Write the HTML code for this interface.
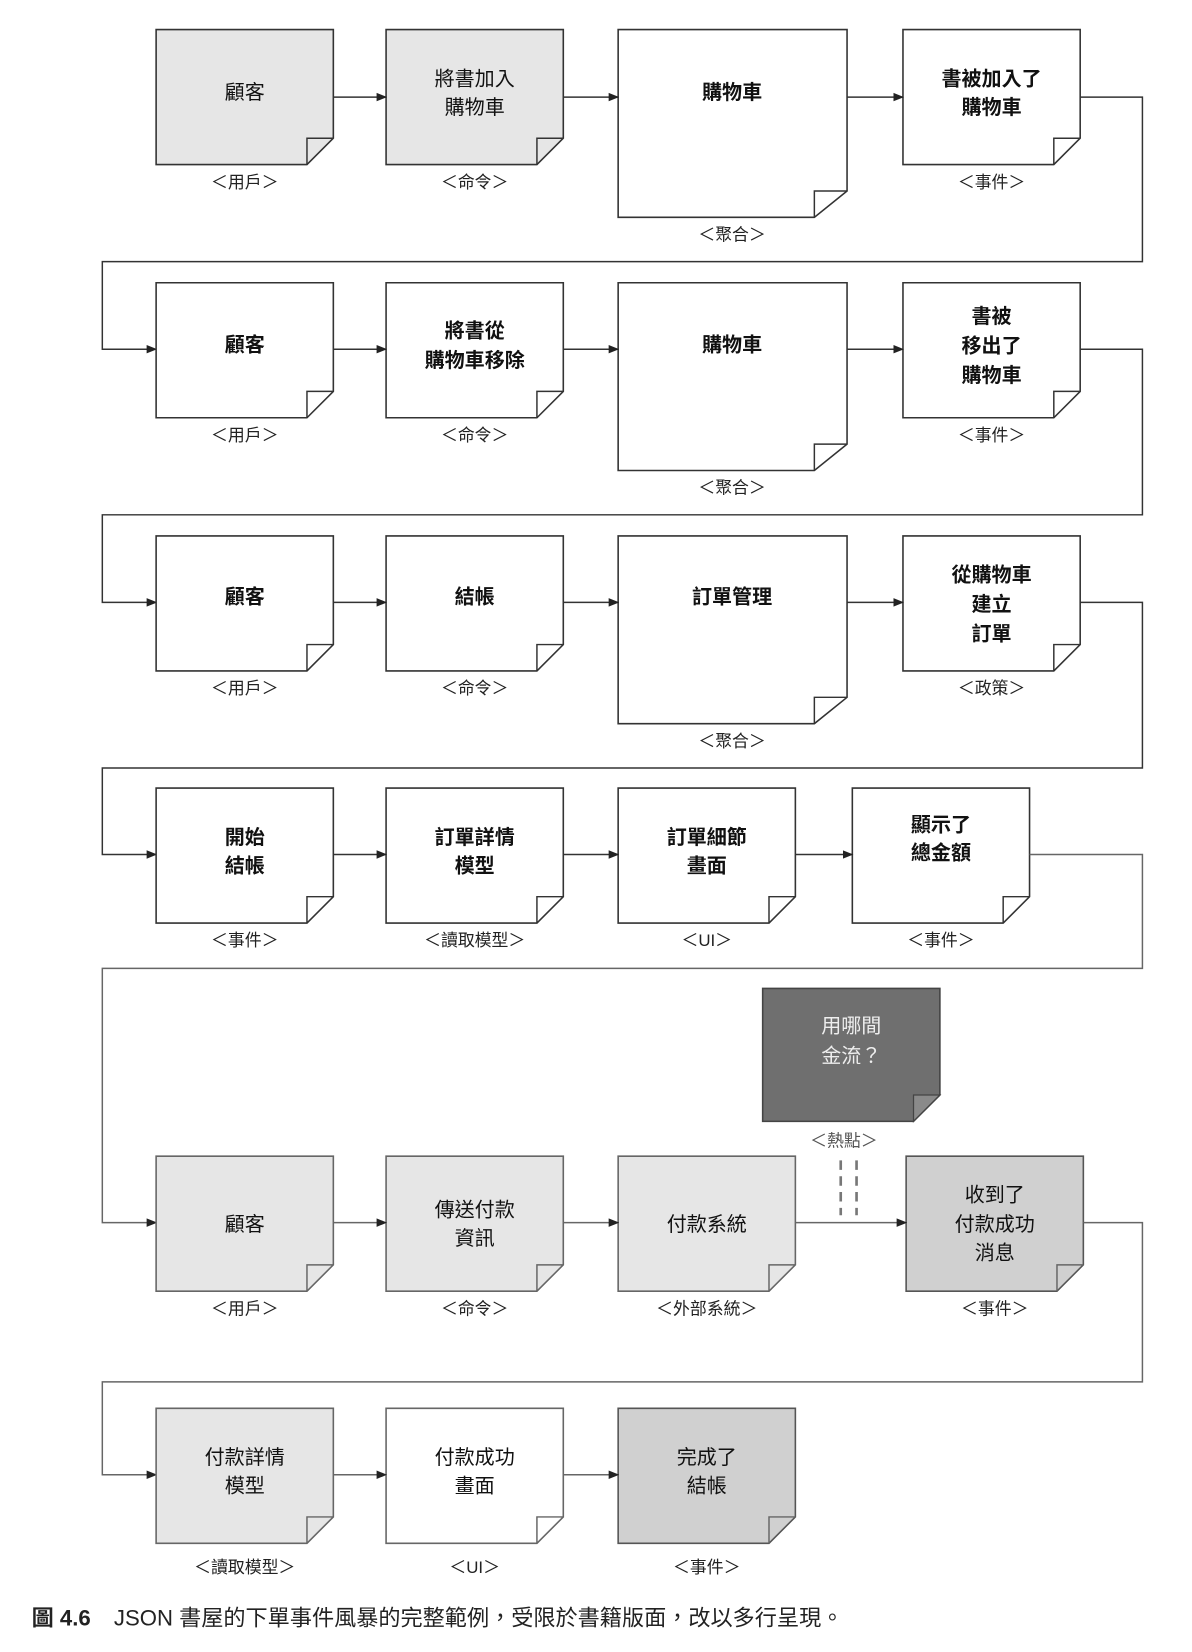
<!DOCTYPE html>
<html><head><meta charset="utf-8"><style>
html,body{margin:0;padding:0;background:#fff;}
svg{display:block;}
text{font-family:"Liberation Sans","Noto Sans CJK TC",sans-serif;}
.t{font-size:19px;text-anchor:middle;fill:#111;}
.b{font-weight:bold;}
.l{font-size:16px;text-anchor:middle;fill:#222;}
.c{fill:none;stroke:#333;stroke-width:1.4;}
.c2{fill:none;stroke:#666;stroke-width:1.4;}
</style></head><body>
<svg width="1192" height="1652" viewBox="0 0 1130 1566" xmlns="http://www.w3.org/2000/svg">
<defs><marker id="a" markerWidth="10" markerHeight="10" refX="9" refY="5" orient="auto" markerUnits="userSpaceOnUse"><path d="M0,1 L10,5 L0,9 Z" fill="#222"/></marker></defs>

<!-- Row 1 -->
<path d="M148,28H316V131L291,156H148Z" fill="#e6e6e6" stroke="#333" stroke-width="1.5"/><path class="c" d="M291,156V131H316"/>
<text class="t" x="232" y="94">顧客</text><text class="l" x="232" y="178">＜用戶＞</text>
<path d="M366,28H534V131L509,156H366Z" fill="#e6e6e6" stroke="#333" stroke-width="1.5"/><path class="c" d="M509,156V131H534"/>
<text class="t" x="450" y="81">將書加入</text><text class="t" x="450" y="108">購物車</text><text class="l" x="450" y="178">＜命令＞</text>
<path d="M586,28H803V181L772,206H586Z" fill="#fff" stroke="#333" stroke-width="1.5"/><path class="c" d="M772,206V181H803"/>
<text class="t b" x="694" y="94">購物車</text><text class="l" x="694" y="228">＜聚合＞</text>
<path d="M856,28H1024V131L999,156H856Z" fill="#fff" stroke="#333" stroke-width="1.5"/><path class="c" d="M999,156V131H1024"/>
<text class="t b" x="940" y="81">書被加入了</text><text class="t b" x="940" y="108">購物車</text><text class="l" x="940" y="178">＜事件＞</text>
<path class="c" d="M316,92H366" marker-end="url(#a)"/><path class="c" d="M534,92H586" marker-end="url(#a)"/><path class="c" d="M803,92H856" marker-end="url(#a)"/>
<path class="c" d="M1024,92H1083V248H97V331H148" marker-end="url(#a)"/>

<!-- Row 2 -->
<path d="M148,268H316V371L291,396H148Z" fill="#fff" stroke="#333" stroke-width="1.5"/><path class="c" d="M291,396V371H316"/>
<text class="t b" x="232" y="333">顧客</text><text class="l" x="232" y="418">＜用戶＞</text>
<path d="M366,268H534V371L509,396H366Z" fill="#fff" stroke="#333" stroke-width="1.5"/><path class="c" d="M509,396V371H534"/>
<text class="t b" x="450" y="320">將書從</text><text class="t b" x="450" y="348">購物車移除</text><text class="l" x="450" y="418">＜命令＞</text>
<path d="M586,268H803V421L772,446H586Z" fill="#fff" stroke="#333" stroke-width="1.5"/><path class="c" d="M772,446V421H803"/>
<text class="t b" x="694" y="333">購物車</text><text class="l" x="694" y="468">＜聚合＞</text>
<path d="M856,268H1024V371L999,396H856Z" fill="#fff" stroke="#333" stroke-width="1.5"/><path class="c" d="M999,396V371H1024"/>
<text class="t b" x="940" y="306">書被</text><text class="t b" x="940" y="334">移出了</text><text class="t b" x="940" y="362">購物車</text><text class="l" x="940" y="418">＜事件＞</text>
<path class="c" d="M316,331H366" marker-end="url(#a)"/><path class="c" d="M534,331H586" marker-end="url(#a)"/><path class="c" d="M803,331H856" marker-end="url(#a)"/>
<path class="c" d="M1024,331H1083V488H97V571H148" marker-end="url(#a)"/>

<!-- Row 3 -->
<path d="M148,508H316V611L291,636H148Z" fill="#fff" stroke="#333" stroke-width="1.5"/><path class="c" d="M291,636V611H316"/>
<text class="t b" x="232" y="572">顧客</text><text class="l" x="232" y="658">＜用戶＞</text>
<path d="M366,508H534V611L509,636H366Z" fill="#fff" stroke="#333" stroke-width="1.5"/><path class="c" d="M509,636V611H534"/>
<text class="t b" x="450" y="572">結帳</text><text class="l" x="450" y="658">＜命令＞</text>
<path d="M586,508H803V661L772,686H586Z" fill="#fff" stroke="#333" stroke-width="1.5"/><path class="c" d="M772,686V661H803"/>
<text class="t b" x="694" y="572">訂單管理</text><text class="l" x="694" y="708">＜聚合＞</text>
<path d="M856,508H1024V611L999,636H856Z" fill="#fff" stroke="#333" stroke-width="1.5"/><path class="c" d="M999,636V611H1024"/>
<text class="t b" x="940" y="551">從購物車</text><text class="t b" x="940" y="579">建立</text><text class="t b" x="940" y="607">訂單</text><text class="l" x="940" y="658">＜政策＞</text>
<path class="c" d="M316,571H366" marker-end="url(#a)"/><path class="c" d="M534,571H586" marker-end="url(#a)"/><path class="c" d="M803,571H856" marker-end="url(#a)"/>
<path class="c" d="M1024,571H1083V728H97V810H148" marker-end="url(#a)"/>

<!-- Row 4 -->
<path d="M148,747H316V850L291,875H148Z" fill="#fff" stroke="#333" stroke-width="1.5"/><path class="c" d="M291,875V850H316"/>
<text class="t b" x="232" y="800">開始</text><text class="t b" x="232" y="827">結帳</text><text class="l" x="232" y="897">＜事件＞</text>
<path d="M366,747H534V850L509,875H366Z" fill="#fff" stroke="#333" stroke-width="1.5"/><path class="c" d="M509,875V850H534"/>
<text class="t b" x="450" y="800">訂單詳情</text><text class="t b" x="450" y="827">模型</text><text class="l" x="450" y="897">＜讀取模型＞</text>
<path d="M586,747H754V850L729,875H586Z" fill="#fff" stroke="#333" stroke-width="1.5"/><path class="c" d="M729,875V850H754"/>
<text class="t b" x="670" y="800">訂單細節</text><text class="t b" x="670" y="827">畫面</text><text class="l" x="670" y="897">＜UI＞</text>
<path d="M808,747H976V850L951,875H808Z" fill="#fff" stroke="#333" stroke-width="1.5"/><path class="c" d="M951,875V850H976"/>
<text class="t b" x="892" y="788">顯示了</text><text class="t b" x="892" y="815">總金額</text><text class="l" x="892" y="897">＜事件＞</text>
<path class="c" d="M316,810H366" marker-end="url(#a)"/><path class="c" d="M534,810H586" marker-end="url(#a)"/><path class="c" d="M754,810H808" marker-end="url(#a)"/>
<path class="c2" d="M976,810H1083V918H97V1159H148" marker-end="url(#a)"/>

<!-- Hotspot -->
<path d="M723,937H891V1038L866,1063H723Z" fill="#6f6f6f" stroke="#444" stroke-width="1.5"/><path d="M866,1063V1038H891Z" fill="#8a8a8a" stroke="#444" stroke-width="1.2"/>
<text class="t" x="807" y="979" style="fill:#eee">用哪間</text><text class="t" x="807" y="1007" style="fill:#eee">金流？</text>
<text class="l" x="800" y="1087" style="fill:#555">＜熱點＞</text>
<path d="M797,1100V1152M812,1100V1152" stroke="#777" stroke-width="2.5" stroke-dasharray="9,6" fill="none"/>

<!-- Row 6 -->
<path d="M148,1096H316V1199L291,1224H148Z" fill="#e6e6e6" stroke="#666" stroke-width="1.5"/><path class="c2" d="M291,1224V1199H316"/>
<text class="t" x="232" y="1167">顧客</text><text class="l" x="232" y="1246">＜用戶＞</text>
<path d="M366,1096H534V1199L509,1224H366Z" fill="#e6e6e6" stroke="#666" stroke-width="1.5"/><path class="c2" d="M509,1224V1199H534"/>
<text class="t" x="450" y="1153">傳送付款</text><text class="t" x="450" y="1180">資訊</text><text class="l" x="450" y="1246">＜命令＞</text>
<path d="M586,1096H754V1199L729,1224H586Z" fill="#e6e6e6" stroke="#666" stroke-width="1.5"/><path class="c2" d="M729,1224V1199H754"/>
<text class="t" x="670" y="1167">付款系統</text><text class="l" x="670" y="1246">＜外部系統＞</text>
<path d="M859,1096H1027V1199L1002,1224H859Z" fill="#d0d0d0" stroke="#555" stroke-width="1.5"/><path class="c2" d="M1002,1224V1199H1027"/>
<text class="t" x="943" y="1139">收到了</text><text class="t" x="943" y="1167">付款成功</text><text class="t" x="943" y="1194">消息</text><text class="l" x="943" y="1246">＜事件＞</text>
<path class="c2" d="M316,1159H366" marker-end="url(#a)"/><path class="c2" d="M534,1159H586" marker-end="url(#a)"/><path class="c2" d="M754,1159H859" marker-end="url(#a)"/>
<path class="c2" d="M1027,1159H1083V1310H97V1398H148" marker-end="url(#a)"/>

<!-- Row 7 -->
<path d="M148,1335H316V1438L291,1463H148Z" fill="#e6e6e6" stroke="#666" stroke-width="1.5"/><path class="c2" d="M291,1463V1438H316"/>
<text class="t" x="232" y="1388">付款詳情</text><text class="t" x="232" y="1415">模型</text><text class="l" x="232" y="1491">＜讀取模型＞</text>
<path d="M366,1335H534V1438L509,1463H366Z" fill="#fff" stroke="#666" stroke-width="1.5"/><path class="c2" d="M509,1463V1438H534"/>
<text class="t" x="450" y="1388">付款成功</text><text class="t" x="450" y="1415">畫面</text><text class="l" x="450" y="1491">＜UI＞</text>
<path d="M586,1335H754V1438L729,1463H586Z" fill="#d0d0d0" stroke="#555" stroke-width="1.5"/><path class="c2" d="M729,1463V1438H754"/>
<text class="t" x="670" y="1388">完成了</text><text class="t" x="670" y="1415">結帳</text><text class="l" x="670" y="1491">＜事件＞</text>
<path class="c2" d="M316,1398H366" marker-end="url(#a)"/><path class="c2" d="M534,1398H586" marker-end="url(#a)"/>

<!-- Caption -->
<text x="30" y="1541" style="font-size:21px;fill:#222"><tspan font-weight="bold">圖 4.6</tspan><tspan dx="22">JSON 書屋的下單事件風暴的完整範例，受限於書籍版面，改以多行呈現。</tspan></text>
</svg>
</body></html>
